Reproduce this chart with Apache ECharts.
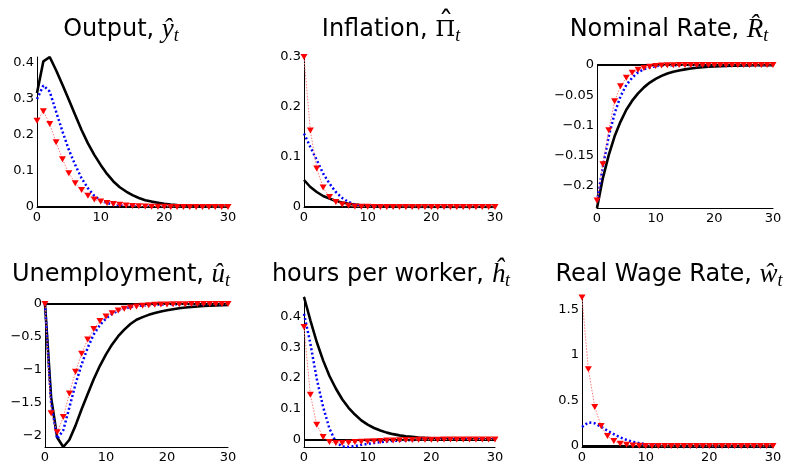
<!DOCTYPE html>
<html>
<head>
<meta charset="UTF-8">
<title>Impulse responses</title>
<script src="https://cdn.jsdelivr.net/npm/echarts@6/dist/echarts.min.js"></script>
<style>
    html, body { margin: 0; padding: 0; background: #fff; }
    #chart { width: 793px; height: 464px; }
</style>
</head>
<body>
<div id="chart"></div>
<script>
// quarters after the shock
var periods = [0,1,2,3,4,5,6,7,8,9,10,11,12,13,14,15,16,17,18,19,20,21,22,23,24,25,26,27,28,29,30];
var xTicks = [0, 10, 20, 30];

// Output
var outputSolid  = [0.317,0.405,0.417,0.38,0.34,0.298,0.256,0.214,0.177,0.145,0.117,0.092,0.071,0.055,0.043,0.033,0.025,0.019,0.015,0.012,0.009,0.007,0.0055,0.0043,0.0033,0.0026,0.002,0.0015,0.0012,0.0009,0.0007];
var outputDotted = [0.30,0.338,0.321,0.265,0.21,0.159,0.117,0.08,0.052,0.031,0.018,0.011,0.007,0.004,0.003,0.002,0.0013,0.0008,0.0005,0.0003,0.0002,0.0001,0,0,0,0,0,0,0,0,0];
var outputMarked = [0.24,0.266,0.231,0.18,0.133,0.094,0.066,0.047,0.031,0.021,0.015,0.011,0.008,0.006,0.004,0.003,0.002,0.0015,0.001,0.0007,0.0005,0.0003,0.0002,0.0001,0,0,0,0,0,0,0];
var outputTicks  = [0, 0.1, 0.2, 0.3, 0.4];

// Inflation
var inflSolid  = [0.054,0.040,0.030,0.022,0.017,0.012,0.009,0.0065,0.0048,0.0035,0.0026,0.0019,0.0014,0.001,0.0008,0.0006,0.0004,0.0003,0.0002,0.0002,0.0001,0.0001,0,0,0,0,0,0,0,0,0];
var inflDotted = [0.147,0.12,0.094,0.067,0.047,0.030,0.018,0.010,0.005,0.003,0.0015,0.0008,0.0004,0.0002,0.0001,0,0,0,0,0,0,0,0,0,0,0,0,0,0,0,0];
var inflMarked = [0.30,0.153,0.077,0.039,0.02,0.01,0.005,0.0025,0.0012,0.0006,0.0003,0.0002,0.0001,0,0,0,0,0,0,0,0,0,0,0,0,0,0,0,0,0,0];
var inflTicks  = [0, 0.1, 0.2, 0.3];

// Nominal rate
var rateSolid  = [-0.2365,-0.187,-0.149,-0.118,-0.094,-0.074,-0.059,-0.047,-0.037,-0.029,-0.023,-0.018,-0.014,-0.011,-0.009,-0.0072,-0.0058,-0.0046,-0.0037,-0.003,-0.0024,-0.0019,-0.0015,-0.0012,-0.001,-0.0008,-0.0006,-0.0005,-0.0004,-0.0003,-0.0003];
var rateDotted = [-0.226,-0.168,-0.118,-0.080,-0.052,-0.033,-0.021,-0.012,-0.007,-0.004,-0.002,-0.001,-0.0006,-0.0003,-0.0002,-0.0001,0,0,0,0,0,0,0,0,0,0,0,0,0,0,0];
var rateMarked = [-0.224,-0.164,-0.108,-0.060,-0.035,-0.021,-0.013,-0.008,-0.005,-0.003,-0.0018,-0.001,-0.0006,-0.0004,-0.0002,-0.0001,0,0,0,0,0,0,0,0,0,0,0,0,0,0,0];
var rateTicks  = [-0.2, -0.15, -0.1, -0.05, 0];

// Unemployment
var unempSolid  = [0,-1.42,-2.03,-2.175,-2.065,-1.85,-1.60,-1.37,-1.14,-0.94,-0.766,-0.615,-0.49,-0.39,-0.305,-0.24,-0.2,-0.165,-0.137,-0.114,-0.095,-0.079,-0.065,-0.054,-0.045,-0.037,-0.031,-0.026,-0.021,-0.018,-0.015];
var unempDotted = [0,-1.5,-2.05,-1.92,-1.57,-1.22,-0.92,-0.665,-0.46,-0.32,-0.22,-0.15,-0.10,-0.07,-0.047,-0.032,-0.022,-0.015,-0.01,-0.007,-0.005,-0.003,-0.002,-0.0015,-0.001,-0.0007,-0.0005,-0.0003,-0.0002,-0.0001,0];
var unempMarked = [0,-1.66,-1.95,-1.72,-1.36,-1.03,-0.755,-0.54,-0.38,-0.26,-0.19,-0.14,-0.1,-0.072,-0.052,-0.037,-0.026,-0.018,-0.013,-0.009,-0.006,-0.004,-0.003,-0.002,-0.0014,-0.001,-0.0007,-0.0005,-0.0003,-0.0002,-0.0001];
var unempTicks  = [-2, -1.5, -1, -0.5, 0];

// Hours per worker
var hoursSolid  = [0.465,0.389,0.318,0.258,0.207,0.166,0.131,0.103,0.081,0.062,0.048,0.037,0.029,0.022,0.017,0.013,0.010,0.008,0.006,0.0047,0.0036,0.0028,0.0022,0.0017,0.0013,0.001,0.0008,0.0006,0.0005,0.0004,0.0003];
var hoursDotted = [0.41,0.313,0.198,0.106,0.035,-0.009,-0.023,-0.025,-0.022,-0.018,-0.015,-0.012,-0.009,-0.007,-0.005,-0.004,-0.003,-0.002,-0.0015,-0.001,-0.0008,-0.0006,-0.0004,-0.0003,-0.0002,-0.0001,0,0,0,0,0];
var hoursMarked = [0.367,0.146,0.048,0.008,-0.009,-0.012,-0.012,-0.011,-0.009,-0.008,-0.007,-0.006,-0.005,-0.004,-0.0035,-0.003,-0.0025,-0.002,-0.0017,-0.0014,-0.0012,-0.001,-0.0008,-0.0006,-0.0005,-0.0004,-0.0003,-0.0002,-0.0002,-0.0001,-0.0001];
var hoursTicks  = [0, 0.1, 0.2, 0.3, 0.4];

// Real wage rate
var wageSolid  = [-0.008,-0.007,-0.006,-0.005,-0.0045,-0.004,-0.0035,-0.003,-0.0025,-0.002,-0.0017,-0.0014,-0.0012,-0.001,-0.0008,-0.0007,-0.0006,-0.0005,-0.0004,-0.0003,-0.0003,-0.0002,-0.0002,-0.0001,-0.0001,-0.0001,0,0,0,0,0];
var wageDotted = [0.21,0.26,0.25,0.21,0.17,0.13,0.095,0.068,0.047,0.032,0.021,0.014,0.009,0.006,0.004,0.0025,0.0016,0.001,0.0006,0.0004,0.0002,0.0001,0,0,0,0,0,0,0,0,0];
var wageMarked = [1.63,0.843,0.43,0.219,0.11,0.055,0.027,0.014,0.007,0.0035,0.0018,0.0009,0.0005,0.0002,0.0001,0,0,0,0,0,0,0,0,0,0,0,0,0,0,0,0];
var wageTicks  = [0, 0.5, 1, 1.5];

var panels = [
    {title: '{a|Output, }{m|ŷ}{s|t}',              cx: 121, ty: 15,  box: [37, 57, 191, 150],    y: [0, 0.417],     ticks: outputTicks, s: [outputSolid, outputDotted, outputMarked]},
    {title: '{a|Inflation, }{p|Π}{s|t}',            cx: 391, ty: 15,  box: [304, 57, 191, 150],   y: [0, 0.3],       ticks: inflTicks,   s: [inflSolid, inflDotted, inflMarked]},
    {title: '{a|Nominal Rate, }{m|R\u0302}{s|t}',    cx: 669, ty: 15,  box: [597, 65, 176, 143],   y: [-0.2365, 0],   ticks: rateTicks,   s: [rateSolid, rateDotted, rateMarked]},
    {title: '{a|Unemployment, }{m|û}{s|t}',          cx: 121, ty: 260, box: [45, 304, 183, 144],   y: [-2.175, 0],    ticks: unempTicks,  s: [unempSolid, unempDotted, unempMarked]},
    {title: '{a|hours per worker, }{m|ĥ}{s|t}',      cx: 391, ty: 260, box: [304, 297, 191, 151],  y: [-0.025, 0.465],ticks: hoursTicks,  s: [hoursSolid, hoursDotted, hoursMarked]},
    {title: '{a|Real Wage Rate, }{m|ŵ}{s|t}',        cx: 669, ty: 260, box: [582, 297, 191, 150],  y: [-0.01, 1.635], ticks: wageTicks,   s: [wageSolid, wageDotted, wageMarked]}
];

function pairs(vals) {
    var out = [];
    for (var i = 0; i < periods.length; i++) out.push([periods[i], vals[i]]);
    return out;
}

function tickFormatter(ticks) {
    return function (v) {
        for (var i = 0; i < ticks.length; i++) {
            if (Math.abs(ticks[i] - v) < 1e-6) return String(ticks[i]).replace('-', '\u2212');
        }
        return '';
    };
}

var richTitle = {
    a: {fontFamily: 'DejaVu Sans', fontWeight: 'normal', fontSize: 24, color: '#000'},
    m: {fontFamily: 'Liberation Serif', fontStyle: 'italic', fontWeight: 'normal', fontSize: 27, color: '#000'},
    p: {fontFamily: 'DejaVu Serif', fontWeight: 'normal', fontSize: 23, color: '#000'},
    s: {fontFamily: 'Liberation Serif', fontStyle: 'italic', fontWeight: 'normal', fontSize: 18, color: '#000', padding: [12, 0, 0, 0]}
};

var titles = [], grids = [], xAxes = [], yAxes = [], series = [];
panels.forEach(function (p, i) {
    titles.push({
        text: p.title, left: p.cx, top: p.ty, textAlign: 'center', padding: 0,
        textStyle: {fontWeight: 'normal', rich: richTitle}
    });
    grids.push({left: p.box[0], top: p.box[1], width: p.box[2], height: p.box[3]});
    xAxes.push({
        type: 'value', gridIndex: i, min: 0, max: 30, interval: 10,
        axisLine: {onZero: false, lineStyle: {color: '#000', width: 1}},
        axisTick: {show: false},
        splitLine: {show: false},
        axisLabel: {margin: 4, color: '#000', fontFamily: 'DejaVu Sans', fontSize: 13,
            formatter: tickFormatter(xTicks)}
    });
    var step = p.ticks[1] - p.ticks[0];
    yAxes.push({
        type: 'value', gridIndex: i, min: p.y[0], max: p.y[1],
        minInterval: step, maxInterval: step, splitNumber: 5,
        axisLine: {show: true, onZero: false, lineStyle: {color: '#000', width: 1}},
        axisTick: {show: false},
        splitLine: {show: false},
        axisLabel: {margin: 3, color: '#000', fontFamily: 'DejaVu Sans', fontSize: 13,
            showMinLabel: true, showMaxLabel: true, formatter: tickFormatter(p.ticks)}
    });
    series.push({
        type: 'line', xAxisIndex: i, yAxisIndex: i, data: pairs(p.s[0]),
        symbol: 'none', lineStyle: {color: '#000', width: 2.6}, z: 3,
        markLine: {
            silent: true, symbol: ['none', 'none'], label: {show: false},
            lineStyle: {color: '#000', width: 2, type: 'solid'},
            data: [{yAxis: 0}]
        }
    });
    series.push({
        type: 'line', xAxisIndex: i, yAxisIndex: i, data: pairs(p.s[1]),
        symbol: 'none', lineStyle: {color: '#0000ff', width: 2.5, type: [2, 2.4]}, z: 4
    });
    series.push({
        type: 'line', xAxisIndex: i, yAxisIndex: i, data: pairs(p.s[2]),
        symbol: 'triangle', symbolRotate: 180, symbolSize: [7, 6], showSymbol: true,
        itemStyle: {color: '#ff0000'},
        lineStyle: {color: '#ff7a7a', width: 1, type: [1.5, 1.5]}, z: 5
    });
});

// wide hat over the Pi of the inflation title
titles.push({
    text: '\u02C6', left: 446, top: 9, textAlign: 'center', padding: 0,
    textStyle: {fontFamily: 'DejaVu Serif', fontWeight: 'normal', fontSize: 30, color: '#000'}
});

var chart = echarts.init(document.getElementById('chart'));
chart.setOption({
    animation: false,
    title: titles,
    grid: grids,
    xAxis: xAxes,
    yAxis: yAxes,
    series: series
});
</script>
</body>
</html>
